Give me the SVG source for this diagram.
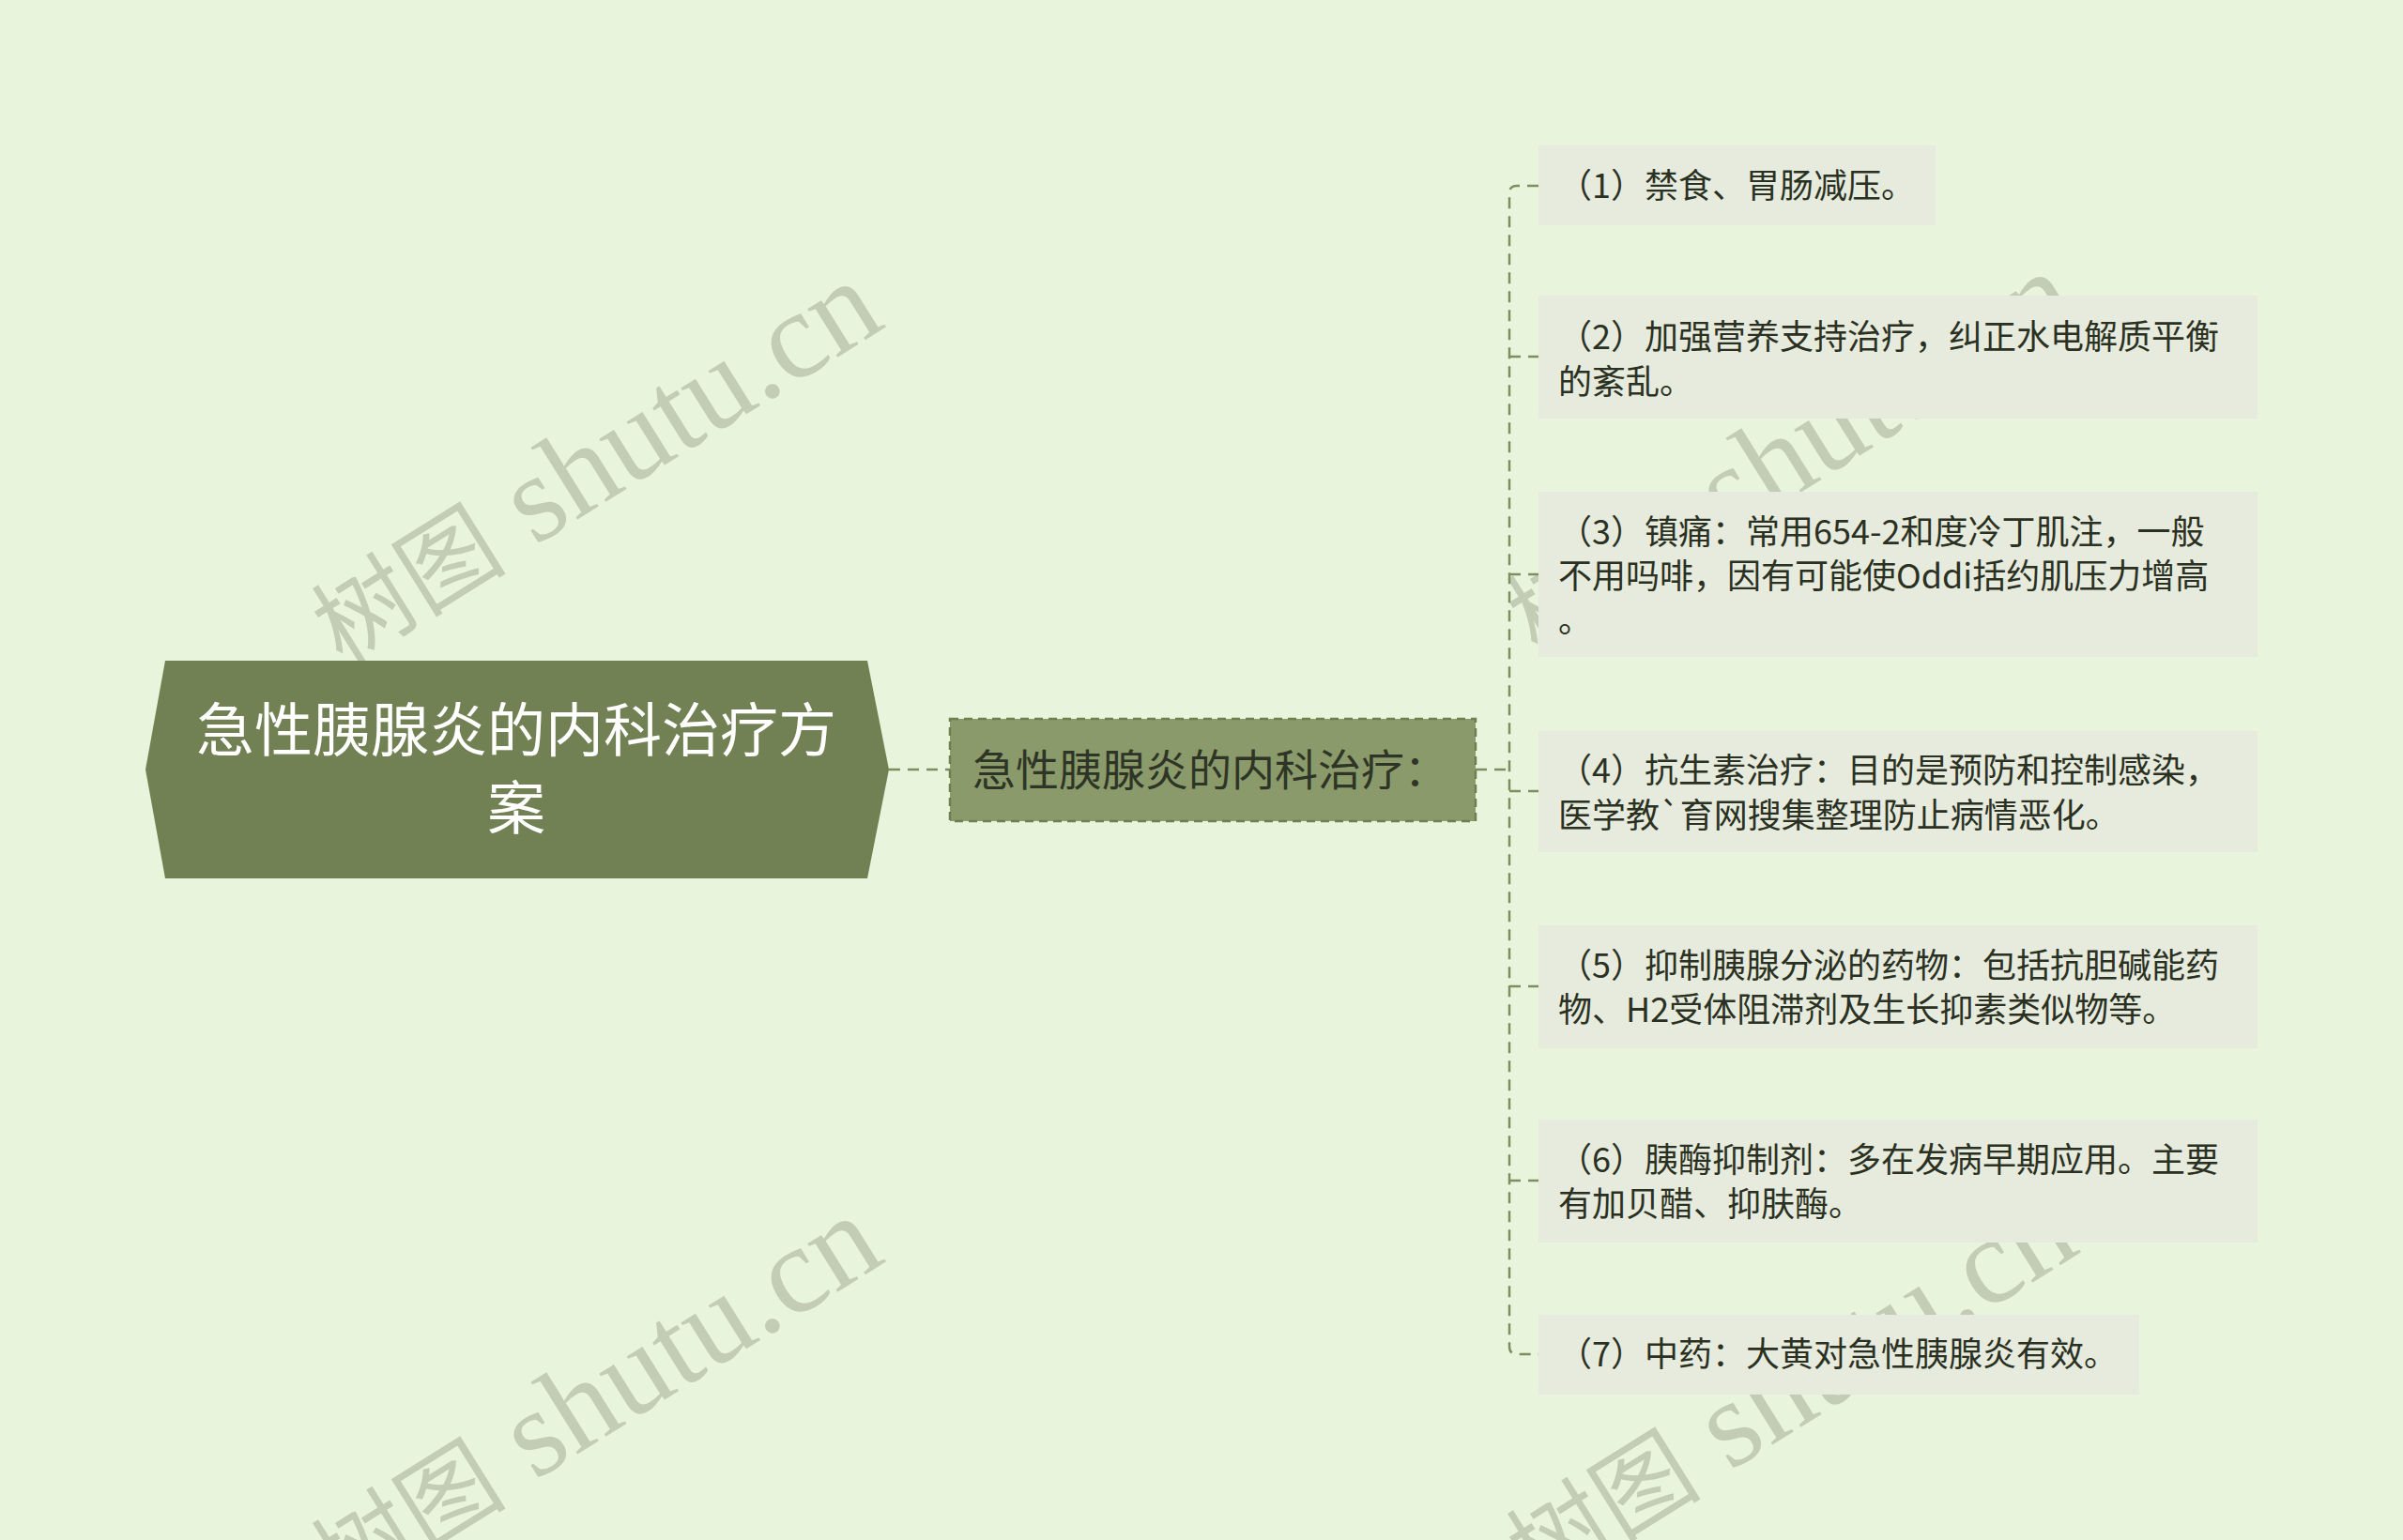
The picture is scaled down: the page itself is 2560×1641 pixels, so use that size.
<svg xmlns="http://www.w3.org/2000/svg" width="2560" height="1641" viewBox="0 0 2560 1641">
<style>
.bg{fill:#e8f5dc}
.wm{font-family:"Liberation Serif","Noto Sans CJK SC",serif;font-size:132px;fill:#c3cdb5}
.wmc{font-size:104px}
.root{fill:#718153}
.roott{font-family:"Noto Sans CJK SC","Noto Sans",sans-serif;font-size:62px;fill:#ffffff;text-anchor:middle}
.child{fill:#8a9a6a;stroke:#6e7f50;stroke-width:2.5;stroke-dasharray:9 6}
.childt{font-family:"Noto Sans CJK SC","Noto Sans",sans-serif;font-size:46px;fill:#2f3526}
.leaf{fill:#e6ebdd}
.leaft{font-family:"Noto Sans CJK SC","Noto Sans",sans-serif;font-size:36px;fill:#2b3122}
.ln{fill:none;stroke:#7d8f5e;stroke-width:2.5;stroke-dasharray:12 8}
</style>
<rect class="bg" x="0" y="0" width="2560" height="1641"/>
<g id="watermarks">
<text class="wm" transform="translate(365,710) rotate(-32)"><tspan class="wmc">树图</tspan> shutu.cn</text>
<text class="wm" transform="translate(1638,700) rotate(-32)"><tspan class="wmc">树图</tspan> shutu.cn</text>
<text class="wm" transform="translate(365,1706) rotate(-32)"><tspan class="wmc">树图</tspan> shutu.cn</text>
<text class="wm" transform="translate(1638,1696) rotate(-32)"><tspan class="wmc">树图</tspan> shutu.cn</text>
</g>
<g id="connectors">
<path class="ln" d="M947,820 H1012"/>
<path class="ln" d="M1572,820 H1608"/>
<path class="ln" d="M1639,198 H1616 Q1608,198 1608,206 V1435 Q1608,1443 1616,1443 H1639"/>
<path class="ln" d="M1608,380 H1639"/>
<path class="ln" d="M1608,612 H1639"/>
<path class="ln" d="M1608,843 H1639"/>
<path class="ln" d="M1608,1051 H1639"/>
<path class="ln" d="M1608,1258 H1639"/>
</g>
<g id="root">
<polygon class="root" points="155,820 176,704 924,704 947,820 924,936 176,936"/>
<text class="roott" x="550" y="801">急性胰腺炎的内科治疗方</text>
<text class="roott" x="550" y="884">案</text>
</g>
<g id="child">
<rect class="child" x="1012" y="766" width="560" height="109"/>
<text class="childt" x="1036" y="837">急性胰腺炎的内科治疗：</text>
</g>
<g id="leaf1">
<rect class="leaf" x="1639" y="155" width="423" height="85"/>
<text class="leaft" x="1660" y="211">（1）禁食、胃肠减压。</text>
</g>
<g id="leaf2">
<rect class="leaf" x="1639" y="315" width="766" height="131"/>
<text class="leaft" x="1660" y="372">（2）加强营养支持治疗，纠正水电解质平衡</text>
<text class="leaft" x="1660" y="420">的紊乱。</text>
</g>
<g id="leaf3">
<rect class="leaf" x="1639" y="524" width="766" height="176"/>
<text class="leaft" x="1660" y="580">（3）镇痛：常用654-2和度冷丁肌注，一般</text>
<text class="leaft" x="1660" y="627">不用吗啡，因有可能使Oddi括约肌压力增高</text>
<text class="leaft" x="1660" y="674">。</text>
</g>
<g id="leaf4">
<rect class="leaf" x="1639" y="779" width="766" height="129"/>
<text class="leaft" x="1660" y="834">（4）抗生素治疗：目的是预防和控制感染，</text>
<text class="leaft" x="1660" y="882">医学教`育网搜集整理防止病情恶化。</text>
</g>
<g id="leaf5">
<rect class="leaf" x="1639" y="986" width="766" height="131"/>
<text class="leaft" x="1660" y="1042">（5）抑制胰腺分泌的药物：包括抗胆碱能药</text>
<text class="leaft" x="1660" y="1089">物、H2受体阻滞剂及生长抑素类似物等。</text>
</g>
<g id="leaf6">
<rect class="leaf" x="1639" y="1193" width="766" height="131"/>
<text class="leaft" x="1660" y="1249">（6）胰酶抑制剂：多在发病早期应用。主要</text>
<text class="leaft" x="1660" y="1296">有加贝醋、抑肤酶。</text>
</g>
<g id="leaf7">
<rect class="leaf" x="1639" y="1401" width="640" height="85"/>
<text class="leaft" x="1660" y="1456">（7）中药：大黄对急性胰腺炎有效。</text>
</g>
</svg>
